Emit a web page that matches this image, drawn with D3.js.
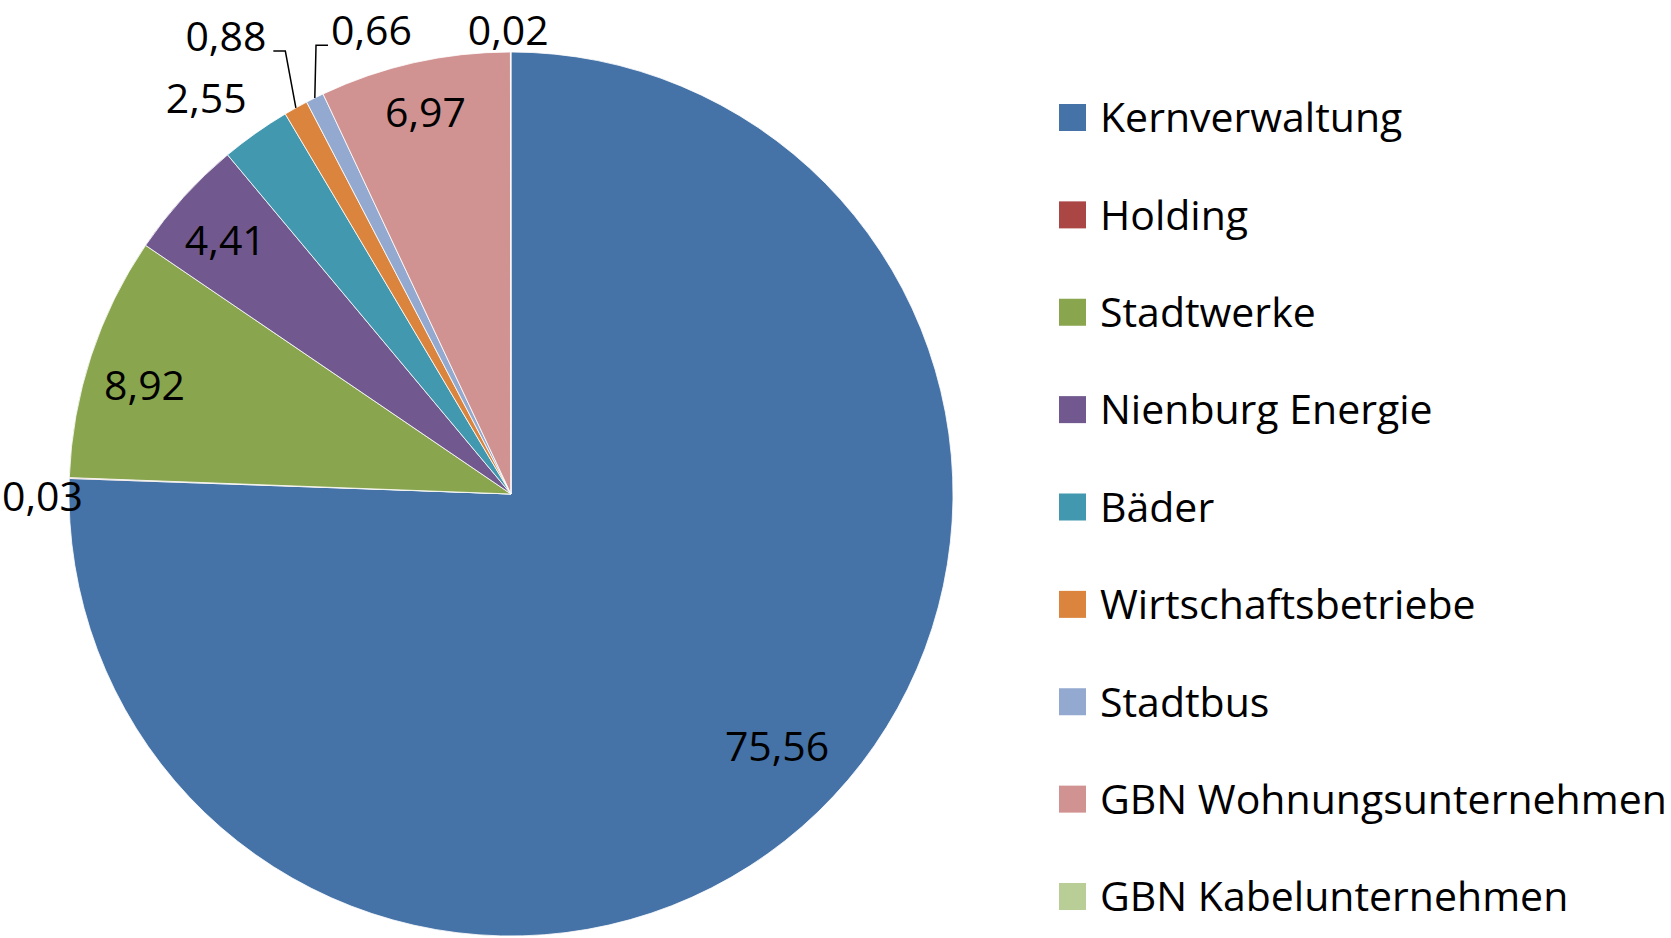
<!DOCTYPE html>
<html>
<head>
<meta charset="utf-8">
<script src="https://cdn.jsdelivr.net/npm/d3@7"></script>
<style>
  body { margin: 0; background: #fff; }
  svg text { font-family: "Open Sans", "Noto Sans", sans-serif; fill: #000; }
</style>
</head>
<body>
<svg id="chart"></svg>
<script>
const width = 1671;
const height = 938;

const categories = ['Kernverwaltung', 'Holding', 'Stadtwerke', 'Nienburg Energie', 'Bäder',
  'Wirtschaftsbetriebe', 'Stadtbus', 'GBN Wohnungsunternehmen', 'GBN Kabelunternehmen'];
const values = [75.56, 0.03, 8.92, 4.41, 2.55, 0.88, 0.66, 6.97, 0.02];
const colors = ['#4572A7', '#AA4643', '#89A54E', '#71588F', '#4198AF',
  '#DB843D', '#93A9CF', '#D19392', '#B9CD96'];

const data = categories.map((name, i) => ({ name: name, value: values[i] }));

const cx = 511, cy = 494, radius = 442;
const fontSize = 41;

// label placement: radius factor, angle nudge (deg), leader side
const labelPlace = [
  { k: 0.83, nudge: -2.5 },
  { k: 1.06, nudge: -2.4 },
  { k: 0.865, nudge: -1.6 },
  { k: 0.864, nudge: -0.6 },
  { k: 1.13, nudge: -2.3 },
  { k: 1.22, nudge: -2.8, leader: 'right' },
  { k: 1.095, nudge: 9.6, leader: 'left' },
  { k: 0.886, nudge: 0 },
  { k: 1.05, nudge: -0.3 }
];

const svg = d3.select('#chart')
  .attr('width', width)
  .attr('height', height);

const color = d3.scaleOrdinal()
  .domain(categories)
  .range(colors);

const pie = d3.pie()
  .sort(null)
  .value(d => d.value);

const arc = d3.arc()
  .innerRadius(0)
  .outerRadius(radius);

const arcs = pie(data);

const g = svg.append('g')
  .attr('transform', `translate(${cx},${cy})`);

g.selectAll('path')
  .data(arcs)
  .enter()
  .append('path')
    .attr('d', arc)
    .attr('fill', d => color(d.data.name))
    .attr('stroke', '#fff')
    .attr('stroke-width', 0.8)
    .attr('stroke-linejoin', 'round');

const fmt = v => d3.format('.2f')(v).replace('.', ',');

const polar = (a, r) => [Math.sin(a) * r, -Math.cos(a) * r];

arcs.forEach((d, i) => {
  const p = labelPlace[i];
  const mid = (d.startAngle + d.endAngle) / 2;
  const [x, y] = polar(mid + p.nudge * Math.PI / 180, radius * p.k);

  const label = g.append('text')
    .attr('x', x)
    .attr('y', y)
    .attr('dy', '0.36em')
    .attr('text-anchor', 'middle')
    .style('font-size', fontSize + 'px')
    .text(fmt(d.data.value));

  if (p.leader) {
    const box = label.node().getBBox();
    const [ex, ey] = polar(mid, radius);
    const baseY = y + fontSize * 0.36;
    const x0 = p.leader === 'right' ? box.x + box.width + 7 : box.x - 3;
    const x1 = p.leader === 'right' ? x0 + 12 : x0 - 12;
    g.append('polyline')
      .attr('points', [[x0, baseY], [x1, baseY], [ex, ey]].map(q => q.join(',')).join(' '))
      .attr('fill', 'none')
      .attr('stroke', '#000')
      .attr('stroke-width', 1.5);
  }
});

// legend
const legendY = d3.scalePoint()
  .domain(categories)
  .range([117.5, 896.5]);

const legend = svg.append('g')
  .selectAll('g')
  .data(categories)
  .enter()
  .append('g')
    .attr('transform', d => `translate(1059,${legendY(d)})`);

legend.append('rect')
  .attr('x', 0)
  .attr('y', -13.5)
  .attr('width', 27)
  .attr('height', 27)
  .attr('fill', d => color(d));

legend.append('text')
  .attr('x', 41)
  .attr('y', 0)
  .attr('dy', '0.36em')
  .style('font-size', fontSize + 'px')
  .text(d => d);
</script>
</body>
</html>
